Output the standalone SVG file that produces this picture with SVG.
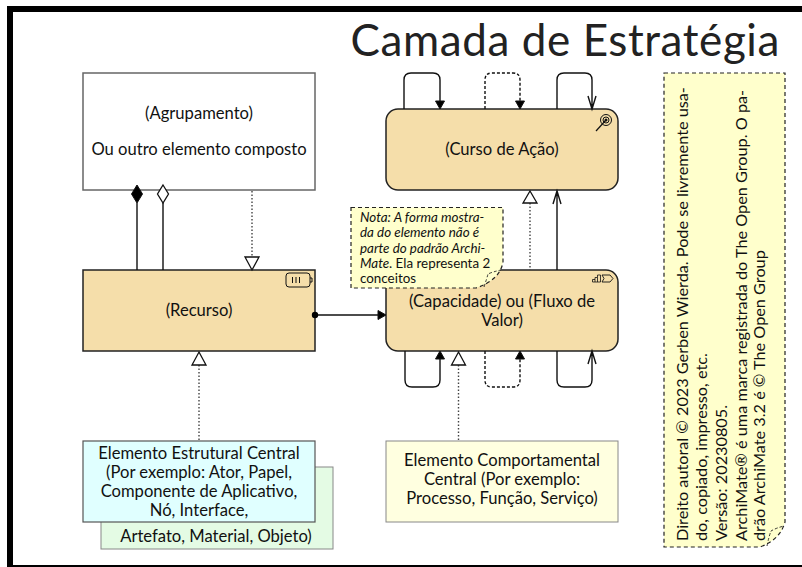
<svg xmlns="http://www.w3.org/2000/svg" width="802" height="567" viewBox="0 0 802 567">
<style>
text{font-family:"Lato","Noto Sans",sans-serif;fill:#111}
.l{font-size:16.600px;text-anchor:middle}
.n{fill:#f5deaa;stroke:#222;stroke-width:1.5}
.c{fill:none;stroke:#111;stroke-width:1.4}
.d{stroke-dasharray:3 2}
.o{stroke-dasharray:1.5 2;stroke:#444}
.note{fill:#ffffcc;stroke:#222;stroke-width:1.2;stroke-dasharray:4 3}
.fold{fill:none;stroke:#222;stroke-dasharray:3 2;stroke-width:.9}
.s{fill:#fff;stroke:#111;stroke-width:1.3}
.b{fill:#000;stroke:#111}
.r{font-size:16.250px}
.t{font-size:13.400px}
</style>
<rect x="0" y="0" width="802" height="567" fill="#fff"/>
<path d="M7 567V6H802V12H13V565H802V567Z" fill="#000"/>
<text x="780" y="56" font-size="44" text-anchor="end" style="letter-spacing:.6px;fill:#222">Camada de Estratégia</text>
<g id="agrupamento">
<rect x="83" y="73" width="232" height="117" fill="#fff" stroke="#666" stroke-width="1.5"/>
<text class="l" x="199" y="119">(Agrupamento)</text>
<text class="l" x="199" y="155">Ou outro elemento composto</text>
</g>
<g id="recurso">
<rect class="n" x="83" y="270" width="232" height="81"/>
<rect x="286" y="273" width="24" height="14" rx="3" fill="none" stroke="#111" stroke-width="1"/>
<path d="M310 278h2v4h-2" fill="none" stroke="#111"/>
<path d="M292.500 277v6M296 277v6M299.500 277v6" stroke="#111"/>
<text class="l" x="199" y="316">(Recurso)</text>
</g>
<g id="curso">
<rect class="n" x="386" y="109" width="232" height="81" rx="12"/>
<text class="l" x="502" y="155">(Curso de Ação)</text>
<circle cx="606" cy="120" r="5.500" fill="none" stroke="#111"/>
<circle cx="606" cy="120" r="3" fill="none" stroke="#111"/>
<circle cx="606" cy="120" r="1.500" fill="#111"/>
<path d="M596 131L606 120" stroke="#111" stroke-width="1.200"/>
</g>
<g id="capacidade">
<rect class="n" x="386" y="270" width="232" height="81" rx="12"/>
<text class="l" x="502" y="307">(Capacidade) ou (Fluxo de</text>
<text class="l" x="502" y="326">Valor)</text>
<path d="M592.500 282h8v-7h-3v2.500h-2.500v2h-2.500zM595 279.500v2.500M597.500 277.500v4.500" fill="none" stroke="#111" stroke-width=".8"/>
<path d="M602 275h8l3 3.500l-3 3.500h-8l2 -3.500z" fill="none" stroke="#111" stroke-width=".9"/>
</g>
<g id="nota">
<path class="note" d="M351 207.500H503V262Q500 280 476 288H351Z"/>
<path class="fold" d="M484 287Q487 278 488 274Q492 272 501 270"/>
<text class="t" font-style="italic"><tspan x="360" y="222">Nota: A forma mostra-</tspan><tspan x="360" y="237">da do elemento não é</tspan><tspan x="360" y="253">parte do padrão Archi-</tspan><tspan x="360" y="268">Mate</tspan></text>
<text class="t" x="389" y="268">. Ela representa 2</text>
<text class="t" x="360" y="283">conceitos</text>
</g>
<g id="artefato">
<rect x="101" y="467" width="232" height="82" fill="#e4fbe4" stroke="#888"/>
<text class="l" x="216" y="542">Artefato, Material, Objeto)</text>
</g>
<g id="estrutural">
<rect x="83" y="441" width="232" height="81" fill="#e0ffff" stroke="#555" stroke-width="1.200"/>
<text class="l"><tspan x="199" y="459">Elemento Estrutural Central</tspan><tspan x="199" y="478">(Por exemplo: Ator, Papel,</tspan><tspan x="199" y="497">Componente de Aplicativo,</tspan><tspan x="199" y="516">Nó, Interface,</tspan></text>
</g>
<g id="comportamental">
<rect x="386" y="441" width="232" height="81" fill="#ffffe0" stroke="#888"/>
<text class="l"><tspan x="502" y="466">Elemento Comportamental</tspan><tspan x="502" y="485">Central (Por exemplo:</tspan><tspan x="502" y="504">Processo, Função, Serviço)</tspan></text>
</g>
<g id="copyright">
<path class="note" d="M664 73H785V522Q780 540 760 547H664Z"/>
<path class="fold" d="M767 546Q769 536 771 531Q776 528 784 526"/>
<text class="r" transform="translate(688 541) rotate(-90)">Direito autoral © 2023 Gerben Wierda. Pode se livremente usa-</text>
<text class="r" transform="translate(707 541) rotate(-90)">do, copiado, impresso, etc.</text>
<text class="r" transform="translate(727 541) rotate(-90)">Versão: 20230805.</text>
<text class="r" transform="translate(747 541) rotate(-90)">ArchiMate® é uma marca registrada do The Open Group. O pa-</text>
<text class="r" transform="translate(765 541) rotate(-90)">drão ArchiMate 3.2 é © The Open Group</text>
</g>
<g id="connectors">
<path class="c" d="M137 270V203M163 270V203"/>
<path class="c o" d="M252 191V257"/>
<path class="s" d="M245 257H259L252 270Z"/>
<path class="b" d="M137 185L142.500 194L137 203L131.500 194Z"/>
<path class="s" d="M163 185L168.500 194L163 203L157.500 194Z"/>
<path class="c" d="M315 315H378"/>
<circle cx="315" cy="315" r="3.200" fill="#000"/>
<path class="b" d="M378 310.500L386 315L378 319.500Z"/>
<path class="c o" d="M199 365V441"/>
<path class="s" d="M199 352L206 365H192Z"/>
<path class="c o" d="M458.500 365V441"/>
<path class="s" d="M458.500 352L465.500 365H451.500Z"/>
<path class="c o" d="M530 203V270"/>
<path class="s" d="M530 191L537 203H523Z"/>
<path class="c" d="M557 270V191M553 204L557 191L561 204"/>
<path class="c" d="M404 109V80Q404 73 411 73H433Q440 73 440 80V101"/>
<path class="b" d="M435.500 101H444.500L440 109Z"/>
<path class="c d" d="M485 109V80Q485 73 492 73H513Q520 73 520 80V101"/>
<path class="b" d="M515.500 101H524.500L520 109Z"/>
<path class="c" d="M557 109V80Q557 73 564 73H585Q592 73 592 80V108M588 96L592 109L596 96"/>
<path class="c" d="M405 351V380Q405 387 412 387H433Q440 387 440 380V359"/>
<path class="b" d="M435.500 359H444.500L440 351Z"/>
<path class="c d" d="M485 351V380Q485 387 492 387H513Q520 387 520 380V359"/>
<path class="b" d="M515.500 359H524.500L520 351Z"/>
<path class="c" d="M557 351V380Q557 387 564 387H585Q592 387 592 380V352M588 364L592 351L596 364"/>
</g>
</svg>
